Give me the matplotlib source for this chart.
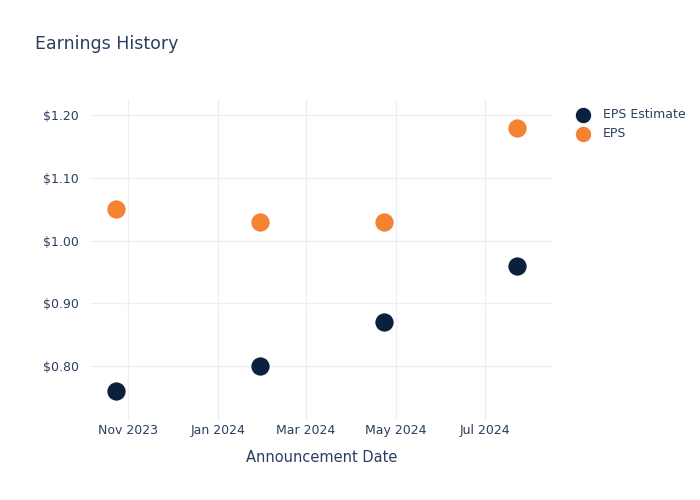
import numpy as np
import pandas as pd
import matplotlib
matplotlib.use("Agg")
import matplotlib.pyplot as plt
import matplotlib.dates as mdates

# announcement dates and EPS values
dates = pd.to_datetime(["2023-10-24", "2024-01-30", "2024-04-23", "2024-07-23"])
eps_estimate = [0.76, 0.80, 0.87, 0.96]
eps_actual = [1.05, 1.03, 1.03, 1.18]

txt = "#2a3f5f"
grid = "#ebf0f8"

fig = plt.figure(figsize=(7, 5), dpi=100)
ax = fig.add_axes([0.1286, 0.16, 0.661, 0.64])

ax.scatter(dates, eps_estimate, s=190, color="#0b1f3f", edgecolors="white",
           linewidths=0.6, zorder=3, label="EPS Estimate")
ax.scatter(dates, eps_actual, s=190, color="#f58232", edgecolors="white",
           linewidths=0.6, zorder=3, label="EPS")

ax.set_xlim(pd.Timestamp("2023-10-06"), pd.Timestamp("2024-08-16"))
ax.set_ylim(0.714, 1.224)
ax.set_yticks([0.8, 0.9, 1.0, 1.1, 1.2])
ax.yaxis.set_major_formatter(matplotlib.ticker.FuncFormatter(lambda v, p: f"${v:.2f}"))
ax.xaxis.set_major_locator(mdates.MonthLocator(bymonth=[1, 3, 5, 7, 11]))
ax.xaxis.set_major_formatter(mdates.DateFormatter("%b %Y"))

ax.grid(True, color=grid, linewidth=1)
ax.set_axisbelow(True)
for s in ax.spines.values():
    s.set_visible(False)
ax.tick_params(length=0, colors=txt, labelsize=9, pad=8)
ax.tick_params(axis="x", pad=3)
ax.set_xlabel("Announcement Date", color=txt, fontsize=10.5, labelpad=9)

fig.text(0.05, 0.912, "Earnings History", color=txt, fontsize=12.5, va="center")

leg = ax.legend(loc="upper left", bbox_to_anchor=(1.027, 0.99), frameon=False,
                fontsize=9, handletextpad=0.6, labelspacing=0.45, borderaxespad=0,
                markerscale=0.85)
for t in leg.get_texts():
    t.set_color(txt)

fig.savefig("out.png", dpi=100)
